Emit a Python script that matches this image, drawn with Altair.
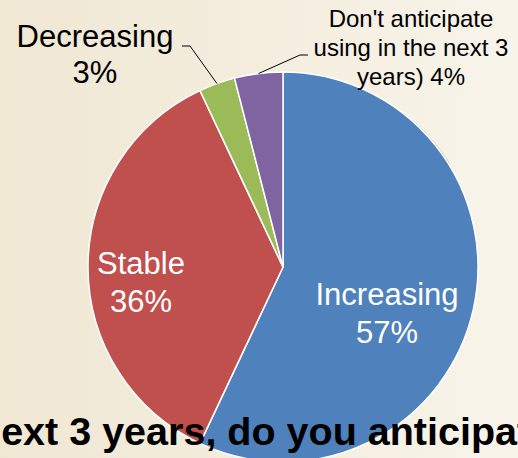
import math
import altair as alt
import pandas as pd

# Survey answers, clockwise from 12 o'clock
categories = ["Increasing", "Stable", "Decreasing", "Don't anticipate using in the next 3 years)"]
values = [57, 36, 3, 4]
colors = ["#4F81BD", "#C0504D", "#9BBB59", "#8064A2"]

# Label text lines (percentage appended from the values)
name_lines = [["Increasing"], ["Stable"], ["Decreasing"],
              ["Don't anticipate", "using in the next 3", "years)"]]
pct_on_own_line = [True, True, True, False]

question_text = "next 3 years, do you anticipate"

W, H = 518, 458
CX, CY, R = 283, 267, 195
FONT = "Arial, Liberation Sans, sans-serif"


def label_lines(i):
    lines = list(name_lines[i])
    pct = f"{values[i]}%"
    if pct_on_own_line[i]:
        lines.append(pct)
    else:
        lines[-1] = f"{lines[-1]} {pct}"
    return lines


pie_df = pd.DataFrame({"category": categories, "value": values,
                       "order": list(range(len(categories)))})

# Mid-angle point of a slice on the outer rim (theta 0 at top, clockwise)
total = sum(values)
cum = 0
rim = {}
for c, v in zip(categories, values):
    mid = (cum + v / 2) / total * 2 * math.pi
    rim[c] = (CX + R * math.sin(mid), CY - R * math.cos(mid))
    cum += v

# Background panel with soft horizontal gradient
bg = alt.Chart(pd.DataFrame({"a": [0]})).mark_rect(
    fill=alt.Gradient(gradient="linear", x1=0, x2=1, y1=0, y2=0,
                      stops=[alt.GradientStop(color="#F0E7D3", offset=0),
                             alt.GradientStop(color="#F8F4EA", offset=1)])
).encode(x=alt.value(0), x2=alt.value(W), y=alt.value(0), y2=alt.value(H))

shadow = alt.Chart(pd.DataFrame({"v": [1]})).mark_arc(
    radius=R + 1, color="#8A8473", opacity=0.35
).encode(theta=alt.Theta("v:Q", scale=None), x=alt.value(CX + 2), y=alt.value(CY + 2))

pie = alt.Chart(pie_df).mark_arc(radius=R, stroke="white", strokeWidth=1.5).encode(
    theta=alt.Theta("value:Q", stack=True),
    order=alt.Order("order:Q", sort="ascending"),
    color=alt.Color("category:N", scale=alt.Scale(domain=categories, range=colors), legend=None),
    x=alt.value(CX), y=alt.value(CY),
)

# Leader lines for the two small slices
lead_rows = []
elbows = {categories[2]: [(190, 46), (182, 46)],
          categories[3]: [(300, 55), (308, 55)]}
for c, pts in elbows.items():
    x0, y0 = rim[c]
    seq = [(x0, y0)] + pts
    for k, (px, py) in enumerate(seq):
        lead_rows.append({"category": c, "k": k, "px": px, "py": py})
leaders = alt.Chart(pd.DataFrame(lead_rows)).mark_line(color="black", strokeWidth=1).encode(
    x=alt.X("px:Q", scale=None), y=alt.Y("py:Q", scale=None),
    detail="category:N", order="k:Q",
)


def text_layer(idx, px, py, size, color, line_height):
    df = pd.DataFrame({"t": [label_lines(idx)]})
    return alt.Chart(df).mark_text(
        font=FONT, fontSize=size, color=color, align="center",
        baseline="alphabetic", lineHeight=line_height
    ).encode(text="t", x=alt.value(px), y=alt.value(py))


labels = [
    text_layer(0, 387, 305, 31, "white", 38),
    text_layer(1, 141, 274, 31, "white", 38),
    text_layer(2, 95, 47, 31, "black", 36),
    text_layer(3, 411, 27, 24, "black", 29),
]

question = alt.Chart(pd.DataFrame({"t": [question_text]})).mark_text(
    font=FONT, fontSize=39.5, fontWeight="bold", color="black",
    align="left", baseline="alphabetic"
).encode(text="t:N", x=alt.value(-23), y=alt.value(445))

chart = alt.layer(bg, shadow, pie, leaders, *labels, question).properties(
    width=W, height=H, padding=0, autosize="none", background="#F4EEE0"
).configure_view(stroke=None)

chart.save("out.html", embed_options={"renderer": "svg", "actions": False})
